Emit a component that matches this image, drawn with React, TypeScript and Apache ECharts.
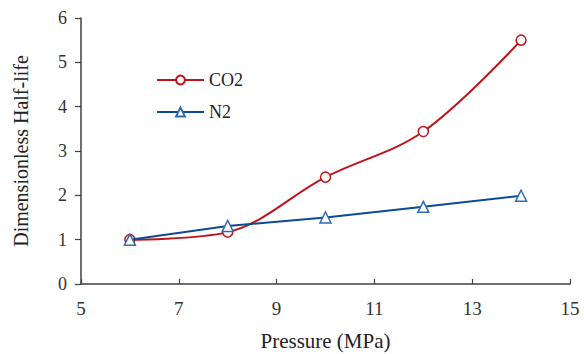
import React, { useEffect, useRef } from "react";
import * as echarts from "echarts";

const pressure = [6, 8, 10, 12, 14];
const co2 = [1.0, 1.17, 2.41, 3.44, 5.5];
const n2 = [1.0, 1.31, 1.5, 1.74, 1.99];

const FONT = "Times New Roman, Liberation Serif, DejaVu Serif, serif";
const RED = "#c0141c";
const BLUE = "#0e4a92";
const AXIS = "#404040";
const TXT = "#222222";

export default function App() {
  const ref = useRef<HTMLDivElement>(null);
  useEffect(() => {
    if (!ref.current) return;
    const chart = echarts.init(ref.current, undefined, { renderer: "svg" });
    chart.setOption({
      animation: false,
      backgroundColor: "#ffffff",
      textStyle: { fontFamily: FONT },
      grid: { left: 81, right: 14, top: 18, bottom: 70, outerBoundsMode: "none", containLabel: false },
      legend: {
        orient: "vertical",
        left: 151,
        top: 66,
        itemWidth: 47,
        itemHeight: 11,
        itemGap: 14,
        textStyle: { fontFamily: FONT, fontSize: 18, color: TXT },
        data: ["CO2", "N2"],
      },
      xAxis: {
        type: "value",
        min: 5,
        max: 15,
        interval: 2,
        name: "Pressure (MPa)",
        nameLocation: "middle",
        nameGap: 46,
        nameTextStyle: { fontFamily: FONT, fontSize: 21, color: TXT },
        axisLine: { lineStyle: { color: AXIS, width: 1.5 } },
        axisTick: { inside: true, length: 5, lineStyle: { color: AXIS, width: 1.2 } },
        axisLabel: { fontFamily: FONT, fontSize: 19, color: "#333", margin: 15 },
        splitLine: { show: false },
      },
      yAxis: {
        type: "value",
        min: 0,
        max: 6,
        interval: 1,
        name: "Dimensionless Half-life",
        nameLocation: "middle",
        nameGap: 50,
        nameTextStyle: { fontFamily: FONT, fontSize: 20, color: TXT },
        axisLine: { show: true, lineStyle: { color: AXIS, width: 1.5 } },
        axisTick: { show: true, inside: false, length: 6, lineStyle: { color: AXIS, width: 1.2 } },
        axisLabel: { fontFamily: FONT, fontSize: 18, color: "#333", margin: 14 },
        splitLine: { show: false },
      },
      series: [
        {
          name: "CO2",
          type: "line",
          smooth: 0.35,
          data: pressure.map((p, i) => [p, co2[i]]),
          symbol: "circle",
          symbolSize: 10,
          lineStyle: { color: RED, width: 2 },
          itemStyle: { color: "#ffffff", borderColor: RED, borderWidth: 1.5 },
          z: 2,
        },
        {
          name: "N2",
          type: "line",
          data: pressure.map((p, i) => [p, n2[i]]),
          symbol: "triangle",
          symbolSize: 11,
          lineStyle: { color: BLUE, width: 2 },
          itemStyle: { color: "#ffffff", borderColor: "#2e6db0", borderWidth: 1.5 },
          z: 3,
        },
      ],
    });
    return () => chart.dispose();
  }, []);
  return <div ref={ref} style={{ width: 584, height: 354, position: "absolute", left: 0, top: 0 }} />;
}
